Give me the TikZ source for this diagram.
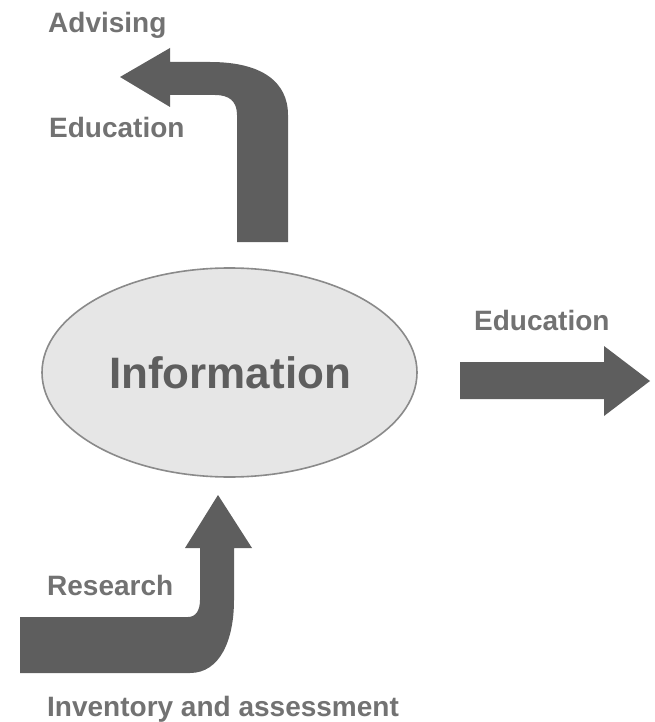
\documentclass[tikz,border=0pt]{standalone}
\usepackage{fontspec}
\setmainfont{Liberation Sans}
\usetikzlibrary{shapes.geometric}
\definecolor{arrowgrey}{HTML}{5E5E5E}
\definecolor{labelgrey}{HTML}{727272}
\definecolor{ellfill}{HTML}{E6E6E6}
\definecolor{ellline}{HTML}{8A8A8A}
\tikzset{
  lbl/.style={anchor=base west, inner sep=0pt, text=labelgrey, font=\fontsize{28}{32}\selectfont\bfseries},
  blockarrow/.style={fill=arrowgrey, draw=none},
  infoell/.style={ellipse, fill=ellfill, draw=ellline, line width=1.6pt, minimum width=375pt, minimum height=209pt, inner sep=0pt}
}
\begin{document}
\begin{tikzpicture}[x=1pt, y=-1pt]
\useasboundingbox (0,0) rectangle (654,722);
% central ellipse
\node[infoell] (info) at (229.5,372.5) {};
\node[anchor=base, inner sep=0pt, text=arrowgrey, font=\fontsize{44}{50}\selectfont\bfseries] (infotext) at (230,388) {Information};
% top bent arrow
\fill[blockarrow] (237,242) -- (237,115) .. controls (237,101) and (229,95) .. (215,95)
  -- (170,95) -- (170,107) -- (120,77) -- (170,48) -- (170,62) -- (210,62)
  .. controls (262,62) and (288,82) .. (288,115) -- (288,242) -- cycle;
% right arrow
\fill[blockarrow] (460,362) -- (604,362) -- (604,346) -- (650,381) -- (604,416) -- (604,399) -- (460,399) -- cycle;
% bottom bent arrow
\fill[blockarrow] (20,617) -- (188,617) .. controls (196,617) and (200,610) .. (200,600)
  -- (200,548) -- (185,548) -- (218,495) -- (252,548) -- (234,548) -- (234,600)
  .. controls (234,640) and (220,673) .. (190,673) -- (20,673) -- cycle;
% labels
\node[lbl] (advising) at (48,33) {Advising};
\node[lbl] (edutop) at (49,138) {Education};
\node[lbl] (eduright) at (474,330) {Education};
\node[lbl] (research) at (47,595) {Research};
\node[lbl] (inventory) at (47,716) {Inventory and assessment};
\end{tikzpicture}
\end{document}
